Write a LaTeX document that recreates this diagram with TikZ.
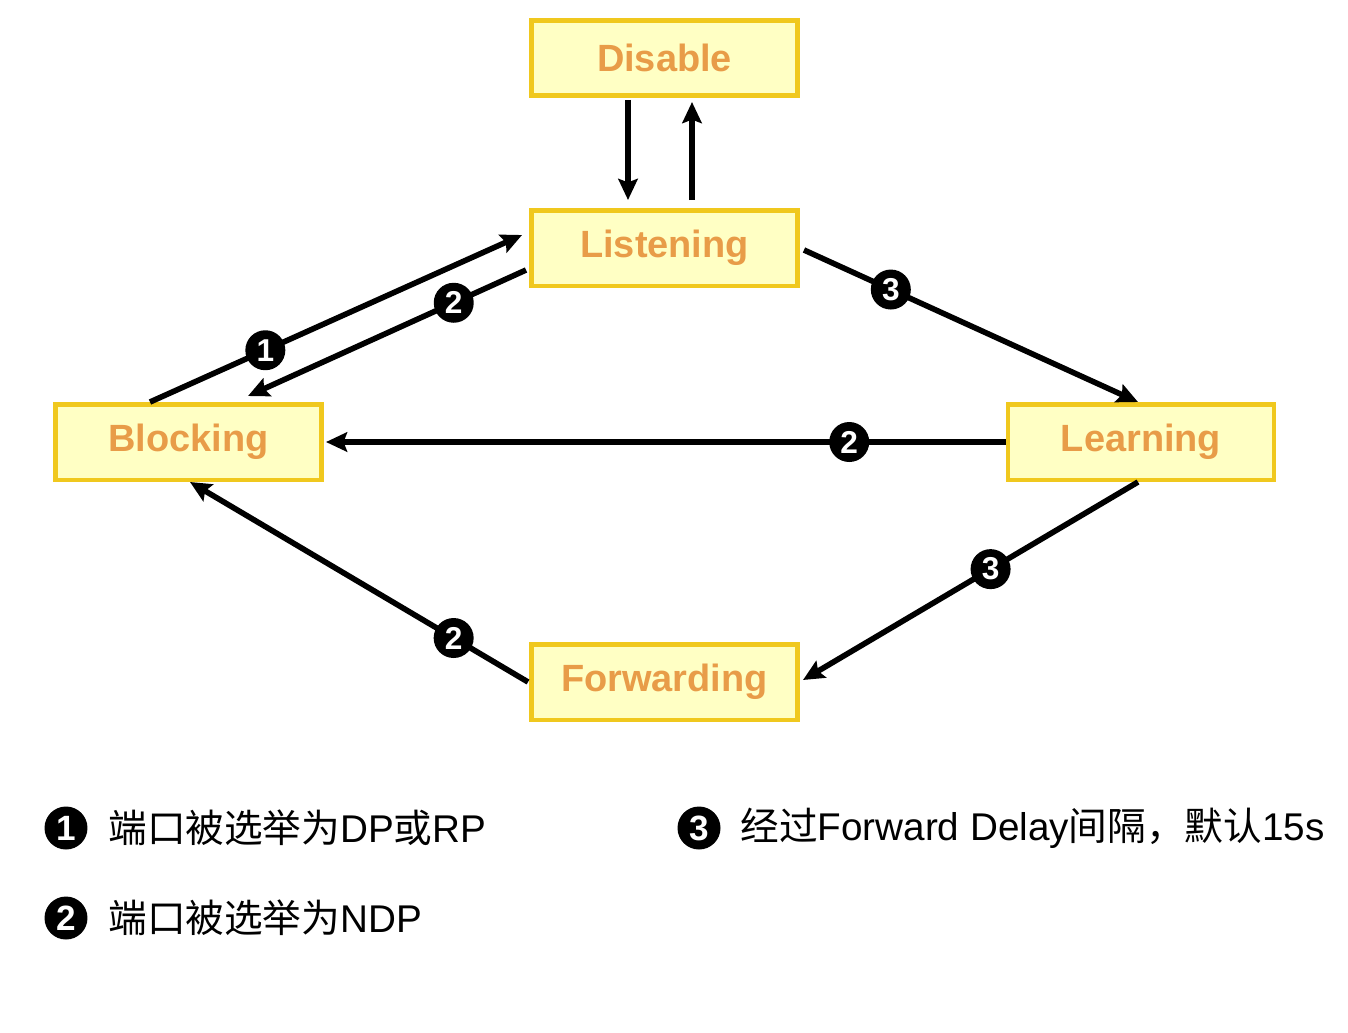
\documentclass[tikz,border=0pt]{standalone}
\usepackage{fontspec}
\setmainfont{Liberation Sans}
\newfontfamily\cjk{Noto Sans CJK SC}
\usetikzlibrary{arrows.meta,
  calc,
  positioning
}

\definecolor{boxfill}{HTML}{FFFFC4}
\definecolor{boxline}{HTML}{F0C81E}
\definecolor{boxtext}{HTML}{E89C48}

\tikzset{
  state/.style={draw=boxline, fill=boxfill, line width=0.09cm,
    minimum width=5.33cm, minimum height=1.51cm, inner sep=0,
    text=boxtext, font=\fontsize{21.6}{26}\selectfont\bfseries},
  trans/.style={->, line width=3.2pt},
  num/.style={circle, fill=black, text=white, inner sep=0,
    minimum size=0.8cm, font=\fontsize{18}{20}\selectfont\bfseries},
  legnum/.style={num, minimum size=0.86cm, font=\fontsize{20}{22}\selectfont\bfseries},
  legtext/.style={anchor=west, inner sep=0, font=\fontsize{22}{26}\selectfont}
}

\begin{document}
\begin{tikzpicture}[x=0.02cm, y=-0.02cm, >={Stealth[length=12pt,width=11pt,inset=2pt]}]
  \useasboundingbox (0, 0) rectangle (1348, 1032);

  % states
  \node[state] (dis) at (664.5, 58) {Disable};
  \node[state] (lis) at (664.5, 248) {Listening};
  \node[state] (blk) at (188.5, 442) {Blocking};
  \node[state] (lrn) at (1141, 442) {Learning};
  \node[state] (fwd) at (664.5, 682) {Forwarding};

  % Disable <-> Listening
  \draw[trans] ($(dis.south)+(-36.5, 2)$) -- ($(lis.north)+(-36.5, -8)$);
  \draw[trans] ($(lis.north)+(27.5, -8)$) -- ($(dis.south)+(27.5, 4)$);

  % Blocking <-> Listening
  \draw[trans] ($(blk.north)+(-38.5, 0)$) -- node[num, pos=0.31] {1} ($(lis.west)+(-7, -13)$);
  \draw[trans] ($(lis.west)+(-3, 22)$) -- node[num, pos=0.26] {2} ($(blk.north)+(59.5, -6)$);

  % Listening -> Learning
  \draw[trans] ($(lis.east)+(4, 2)$) -- node[num, pos=0.26] {3} ($(lrn.north)+(-3, 0)$);

  % Learning -> Blocking
  \draw[trans] (lrn.west) -- node[num, pos=0.23] {2} ($(blk.east)+(2, 0)$);

  % Learning -> Forwarding
  \draw[trans] ($(lrn.south)+(-3, 0)$) -- node[num, pos=0.44] {3} ($(fwd.east)+(3, -2)$);

  % Forwarding -> Blocking
  \draw[trans] ($(fwd.west)+(-1, 0)$) -- node[num, pos=0.22] {2} ($(blk.south)+(1.5, 0)$);

  % legend
  \node[legnum] (k1) at (66, 828) {1};
  \node[legtext] (t1) at (108, 828) {{\cjk 端口被选举为}DP{\cjk 或}RP};
  \node[legnum] (k2) at (66, 918) {2};
  \node[legtext] (t2) at (108, 918) {{\cjk 端口被选举为}NDP};
  \node[legnum] (k3) at (699, 828) {3};
  \node[legtext] (t3) at (740, 828) {{\cjk 经过}Forward Delay{\cjk 间隔，默认}15s};
\end{tikzpicture}
\end{document}
